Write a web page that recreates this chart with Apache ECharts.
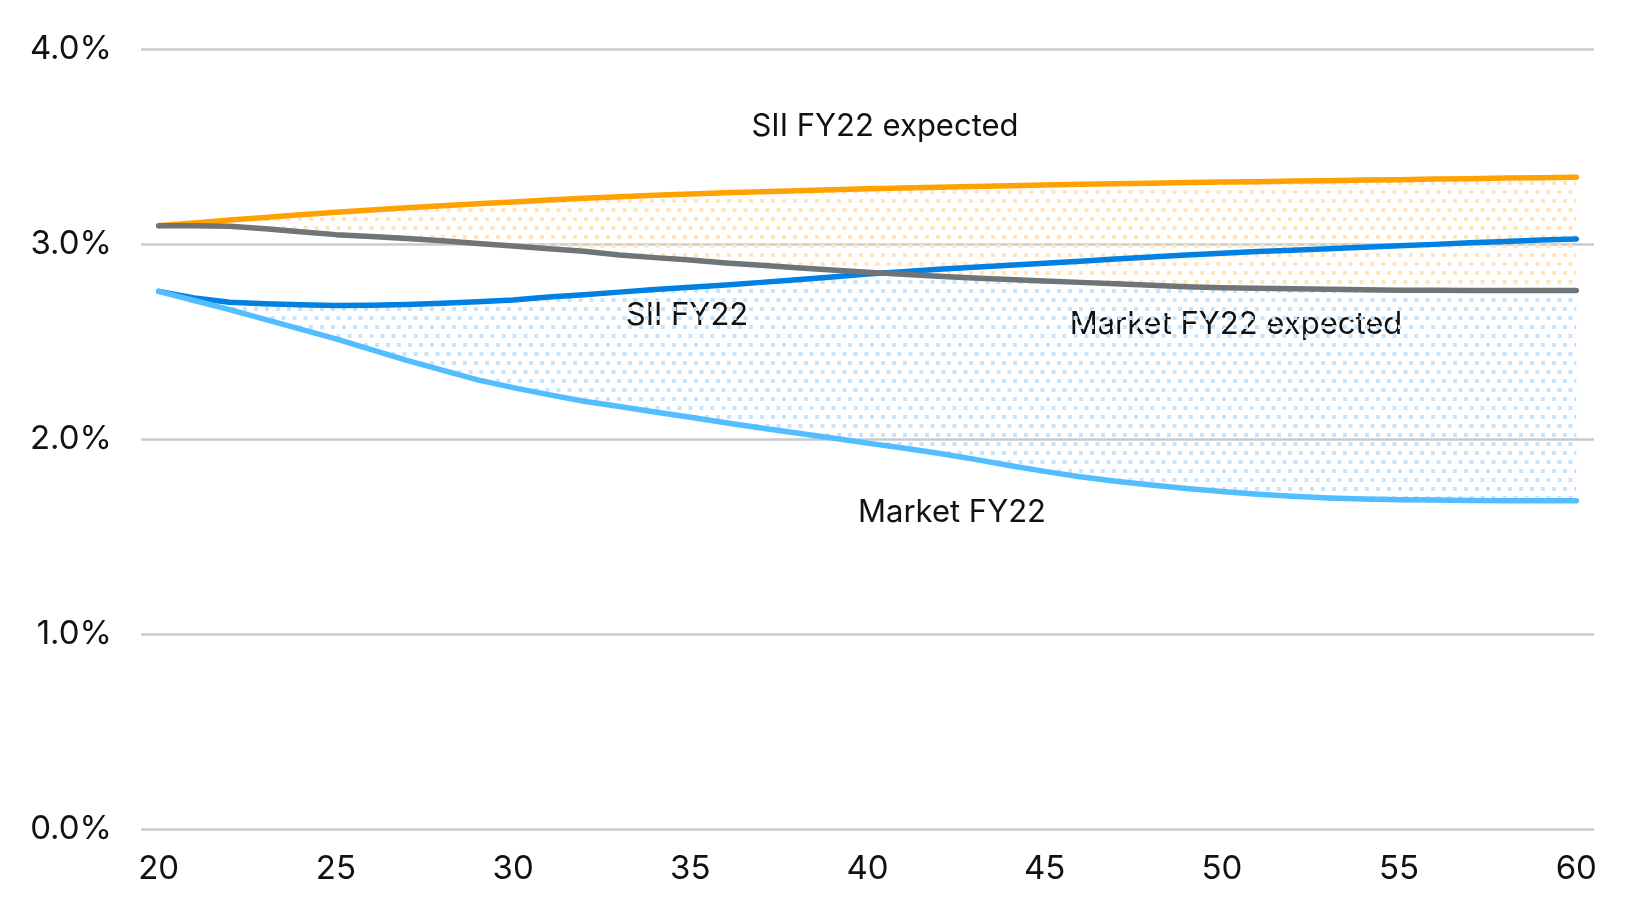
<!DOCTYPE html>
<html>
<head>
<meta charset="utf-8">
<script src="https://cdn.jsdelivr.net/npm/echarts@6/dist/echarts.min.js"></script>
<style>
html,body{margin:0;padding:0;background:#fff;}
#c{width:1646px;height:918px;}
</style>
</head>
<body>
<div id="c"></div>
<script>
const ages = [20,21,22,23,24,25,26,27,28,29,30,31,32,33,34,35,36,37,38,39,40,41,42,43,44,45,46,47,48,49,50,51,52,53,54,55,56,57,58,59,60];
const siiExpected = [3.095,3.11,3.125,3.138,3.152,3.165,3.177,3.188,3.198,3.208,3.218,3.228,3.237,3.245,3.252,3.259,3.265,3.27,3.275,3.28,3.285,3.289,3.293,3.297,3.301,3.305,3.308,3.311,3.314,3.317,3.32,3.322,3.325,3.327,3.33,3.332,3.335,3.337,3.34,3.342,3.344];
const marketExpected = [3.095,3.095,3.093,3.08,3.065,3.05,3.04,3.03,3.018,3.005,2.992,2.978,2.965,2.945,2.932,2.92,2.905,2.893,2.88,2.868,2.857,2.847,2.837,2.828,2.82,2.812,2.805,2.798,2.79,2.783,2.778,2.775,2.772,2.77,2.767,2.765,2.764,2.763,2.763,2.763,2.763];
const sii = [2.759,2.725,2.703,2.695,2.69,2.686,2.688,2.692,2.698,2.706,2.715,2.73,2.742,2.755,2.768,2.78,2.792,2.805,2.818,2.833,2.848,2.86,2.872,2.883,2.893,2.903,2.914,2.925,2.935,2.945,2.955,2.963,2.97,2.977,2.985,2.993,3.0,3.008,3.015,3.022,3.028];
const market = [2.759,2.712,2.665,2.615,2.565,2.515,2.46,2.405,2.355,2.305,2.265,2.229,2.195,2.168,2.14,2.113,2.085,2.058,2.032,2.006,1.98,1.955,1.928,1.898,1.865,1.835,1.808,1.785,1.765,1.747,1.732,1.718,1.707,1.699,1.694,1.69,1.688,1.686,1.685,1.684,1.684];
const yTicks = [0,1,2,3,4];
const labels = ['SII FY22 expected','SII FY22','Market FY22 expected','Market FY22'];

function dotPattern(color){
  const c = document.createElement('canvas');
  c.width = 11; c.height = 18;
  const g = c.getContext('2d');
  g.fillStyle = color;
  g.fillRect(1,1,4,4);
  g.fillRect(6.5,10,4,4);
  return c;
}

const cats = ages.map(String);
const blueTop = sii.map((v,i)=>Math.min(v, marketExpected[i]));
const blueBand = blueTop.map((v,i)=>Math.max(0, v - market[i]));
const orangeBand = siiExpected.map((v,i)=>v - marketExpected[i]);

const chart = echarts.init(document.getElementById('c'), null, {renderer:'canvas'});
const font = 'Inter, "Open Sans", sans-serif';
const lineSeries = (name, data, color, z) => ({
  name, type:'line', data, symbol:'none', smooth:false, z,
  lineStyle:{color, width:5.5, cap:'round', join:'round'}
});
const hidden = (data, stack) => ({
  type:'line', data, stack, symbol:'none', lineStyle:{width:0, opacity:0}, silent:true, z:1
});
const band = (data, stack, pattern) => ({
  type:'line', data, stack, symbol:'none', lineStyle:{width:0, opacity:0}, silent:true, z:1,
  areaStyle:{color:{image:pattern, repeat:'repeat'}, opacity:1}
});
const txt = (s, x, y) => ({type:'text', x, y, style:{text:s, font:'31px '+font, fill:'#111', align:'center', verticalAlign:'middle'}});

chart.setOption({
  animation:false,
  backgroundColor:'#fff',
  grid:{left:141, right:52, top:49.5, bottom:89, containLabel:false},
  xAxis:{
    type:'category', data:cats, boundaryGap:true,
    axisLine:{show:false}, axisTick:{show:false}, splitLine:{show:false},
    axisLabel:{interval:4, color:'#111', fontSize:33, fontFamily:font, margin:24}
  },
  yAxis:{
    type:'value', min:0, max:4, interval:1,
    axisLine:{show:false}, axisTick:{show:false},
    splitLine:{lineStyle:{color:'#C9CBCB', width:2.5}},
    axisLabel:{color:'#111', fontSize:33, fontFamily:font, margin:29,
      formatter:v=> yTicks.includes(v) ? v.toFixed(1)+'%' : ''}
  },
  series:[
    hidden(market,'b'),
    band(blueBand,'b',dotPattern('#C4E4FF')),
    hidden(marketExpected,'o'),
    band(orangeBand,'o',dotPattern('#FFE4BD')),
    lineSeries('SII FY22', sii, '#0080E3', 3),
    lineSeries('Market FY22', market, '#52BDFF', 4),
    lineSeries('SII FY22 expected', siiExpected, '#FFA100', 5),
    lineSeries('Market FY22 expected', marketExpected, '#6F7476', 6)
  ],
  graphic:[
    txt(labels[0], 885, 127),
    txt(labels[1], 687, 316),
    txt(labels[2], 1236, 325),
    txt(labels[3], 952, 513)
  ]
});
</script>
</body>
</html>
